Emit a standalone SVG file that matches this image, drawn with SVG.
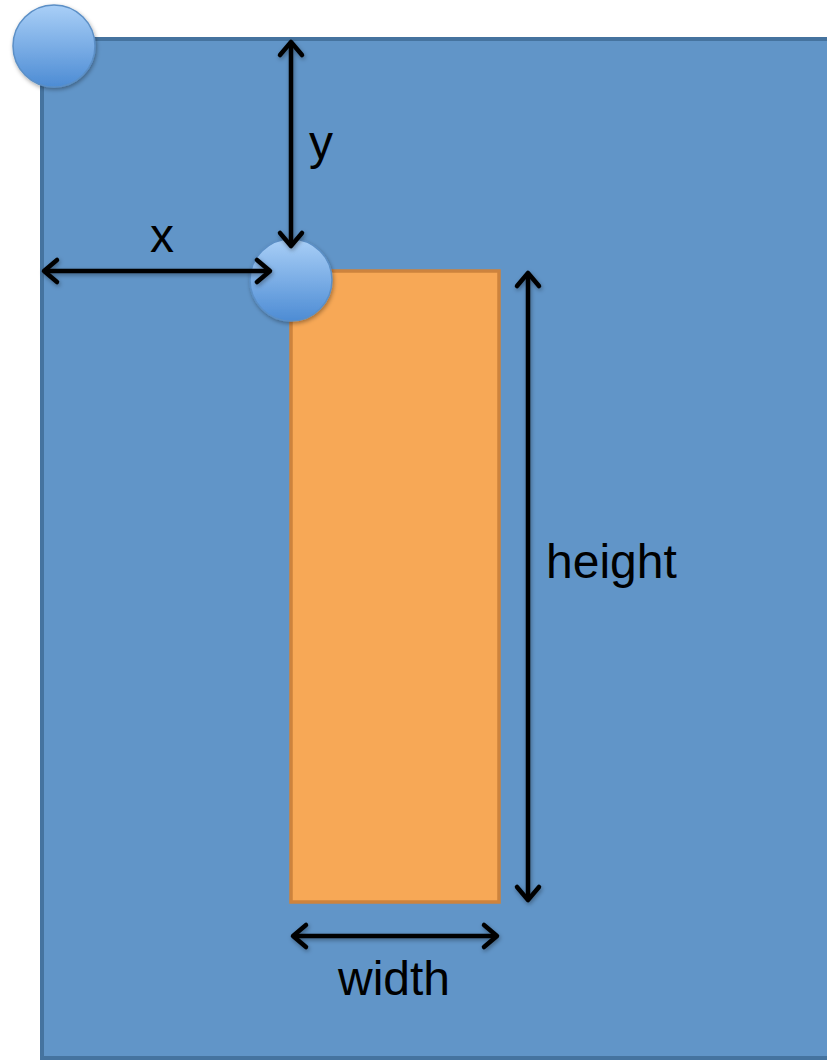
<svg xmlns="http://www.w3.org/2000/svg" width="827" height="1062" viewBox="0 0 827 1062">
<defs>
<linearGradient id="ball" x1="0" y1="0" x2="0" y2="1">
<stop offset="0" stop-color="#a9cff7"/>
<stop offset="1" stop-color="#4d8cd4"/>
</linearGradient>
<filter id="sh" x="-30%" y="-30%" width="160%" height="160%">
<feDropShadow dx="1" dy="2" stdDeviation="2" flood-color="#000" flood-opacity="0.35"/>
</filter>
<marker id="ah" viewBox="0 0 30 30" refX="24" refY="15" markerWidth="30" markerHeight="30" markerUnits="userSpaceOnUse" orient="auto-start-reverse">
<path d="M11,4 L24,15 L11,26" fill="none" stroke="#000" stroke-width="4.5" stroke-linecap="round" stroke-linejoin="round"/>
</marker>
<style>
.lbl{font-family:"Liberation Sans",Arial,sans-serif;font-size:48px;fill:#000}
.dim{stroke:#000;stroke-width:4.5;fill:none;marker-start:url(#ah);marker-end:url(#ah)}
.ball{fill:url(#ball);stroke:#5b8fc6;stroke-width:1.5;filter:url(#sh)}
</style>
</defs>
<rect width="827" height="1062" fill="#fff"/>
<g id="canvas">
<rect x="42" y="39" width="800" height="1019" fill="#6195c8" stroke="#45739f" stroke-width="4"/>
</g>
<g id="origin">
<circle class="ball" cx="54" cy="46" r="41"/>
</g>
<g id="box">
<rect x="291" y="271" width="208" height="631" fill="#f7a856" stroke="#cd833d" stroke-width="3.5"/>
</g>
<g id="corner">
<circle class="ball" cx="291" cy="280" r="41"/>
</g>
<g id="connectors" filter="url(#sh)">
<line class="dim" x1="291" y1="42" x2="291" y2="246"/>
<line class="dim" x1="44" y1="271" x2="270" y2="271"/>
<line class="dim" x1="528" y1="273" x2="528" y2="900"/>
<line class="dim" x1="293" y1="936" x2="497" y2="936"/>
</g>
<g id="labels">
<text class="lbl" x="309" y="159">y</text>
<text class="lbl" x="150" y="252">x</text>
<text class="lbl" x="546" y="578">height</text>
<text class="lbl" x="338" y="995">width</text>
</g>
</svg>
